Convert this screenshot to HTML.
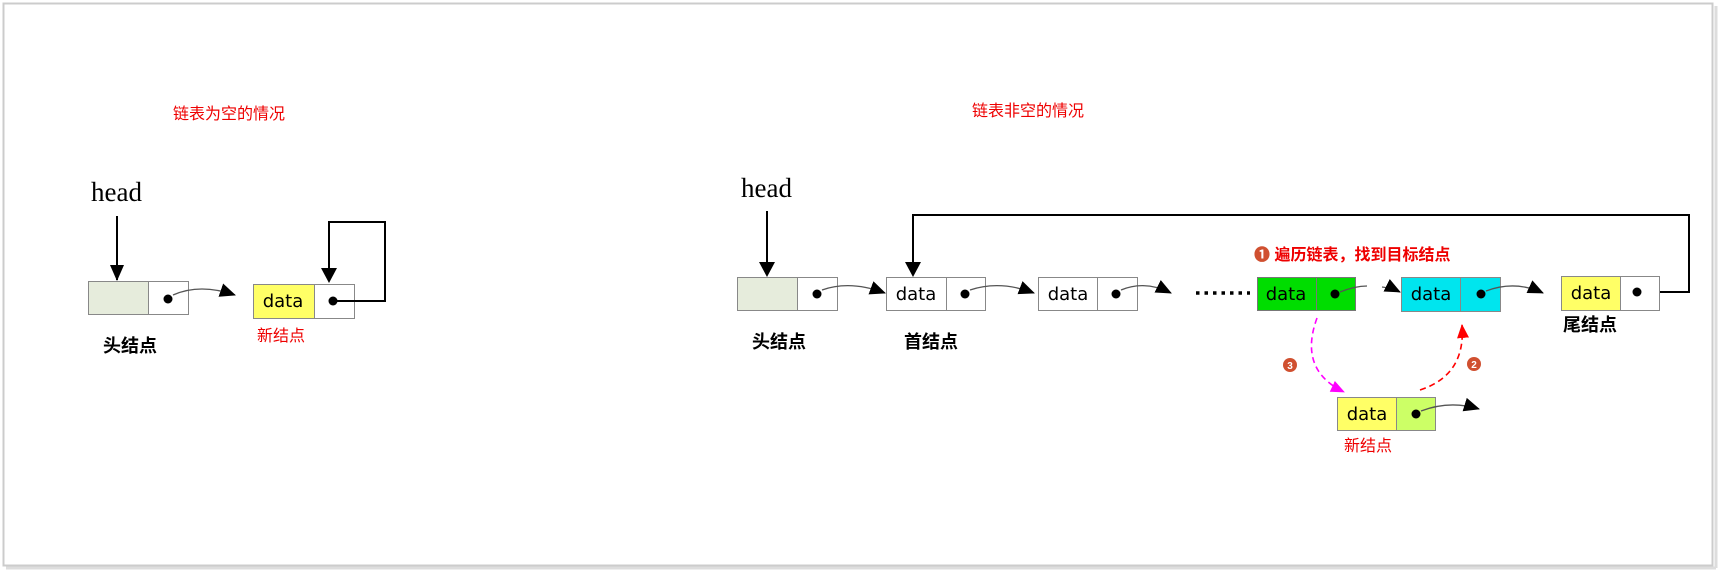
<!DOCTYPE html>
<html><head><meta charset="utf-8"><style>
html,body{margin:0;padding:0;background:#fff;}
svg{display:block;}
.cn{font-family:"Liberation Sans","Noto Sans CJK SC",sans-serif;}
.d{font-family:"DejaVu Sans","Liberation Sans",sans-serif;font-size:18px;}
</style></head><body>
<svg width="1730" height="572" viewBox="0 0 1730 572" xmlns="http://www.w3.org/2000/svg">
<defs>
<marker id="am" markerWidth="14" markerHeight="12" refX="13" refY="6" orient="auto" markerUnits="userSpaceOnUse"><path d="M0,0 L14,6 L0,12z" fill="#f0f"/></marker>
<marker id="ared" markerWidth="14" markerHeight="12" refX="13" refY="6" orient="auto" markerUnits="userSpaceOnUse"><path d="M0,0 L14,6 L0,12z" fill="#f00"/></marker>
<marker id="at" markerWidth="16" markerHeight="14" refX="15" refY="7" orient="auto" markerUnits="userSpaceOnUse"><path d="M0,0 L16,7 L0,14z" fill="#000"/></marker>
</defs>
<rect x="3.5" y="3.5" width="1709" height="562" fill="none" stroke="#ccc" stroke-width="2"/>
<line x1="1716" y1="6" x2="1716" y2="568" stroke="#ddd" stroke-width="3"/>
<line x1="6" y1="568" x2="1716" y2="568" stroke="#ddd" stroke-width="3"/>

<text x="173" y="119" class="cn" font-size="16" fill="#e00">链表为空的情况</text>
<text x="972" y="116" class="cn" font-size="16" fill="#e00">链表非空的情况</text>

<!-- left -->
<text x="91" y="201" font-family="Liberation Serif,serif" font-size="27">head</text>
<line x1="117" y1="216" x2="117" y2="280" stroke="#000" stroke-width="2" marker-end="url(#at)"/>
<rect x="88.5" y="281.5" width="60" height="33" fill="#e6ecdc" stroke="#888"/>
<rect x="148.5" y="281.5" width="40" height="33" fill="#fff" stroke="#888"/>
<circle cx="168" cy="299" r="4.5"/>
<path d="M173,295 Q200,283 235,295" fill="none" stroke="#555" stroke-width="1.3" marker-end="url(#at)"/>
<rect x="253.5" y="284.5" width="61" height="34" fill="#ffff66" stroke="#888"/>
<rect x="314.5" y="284.5" width="40" height="34" fill="#fff" stroke="#888"/>
<text x="283" y="307" class="d" text-anchor="middle">data</text>
<circle cx="333" cy="301" r="4.5"/>
<polyline points="333,301 385,301 385,222 329,222 329,280" fill="none" stroke="#000" stroke-width="2"/>
<path d="M321,268 L337,268 L329,283z"/>
<text x="257" y="341" class="cn" font-size="16" fill="#e00">新结点</text>
<text x="103" y="352" class="cn" font-size="18" font-weight="bold">头结点</text>

<!-- right -->
<text x="741" y="197" font-family="Liberation Serif,serif" font-size="27">head</text>
<line x1="767" y1="211" x2="767" y2="262" stroke="#000" stroke-width="2"/>
<path d="M759,262 L775,262 L767,277z"/>
<rect x="737.5" y="277.5" width="60" height="33" fill="#e6ecdc" stroke="#888"/>
<rect x="797.5" y="277.5" width="40" height="33" fill="#fff" stroke="#888"/>
<circle cx="817" cy="294" r="4.5"/>
<path d="M822,290 Q850,280 885,293" fill="none" stroke="#555" stroke-width="1.3" marker-end="url(#at)"/>

<rect x="886.5" y="277.5" width="60" height="33" fill="#fff" stroke="#888"/>
<rect x="946.5" y="277.5" width="39" height="33" fill="#fff" stroke="#888"/>
<text x="916" y="300" class="d" text-anchor="middle">data</text>
<circle cx="965" cy="294" r="4.5"/>
<path d="M970,290 Q1000,280 1034,293" fill="none" stroke="#555" stroke-width="1.3" marker-end="url(#at)"/>

<rect x="1038.5" y="277.5" width="59" height="33" fill="#fff" stroke="#888"/>
<rect x="1097.5" y="277.5" width="40" height="33" fill="#fff" stroke="#888"/>
<text x="1068" y="300" class="d" text-anchor="middle">data</text>
<circle cx="1116" cy="294" r="4.5"/>
<path d="M1121,290 Q1145,280 1171,293" fill="none" stroke="#555" stroke-width="1.3" marker-end="url(#at)"/>
<line x1="1196" y1="293" x2="1250" y2="293" stroke="#000" stroke-width="3.5" stroke-dasharray="3.5,5"/>

<polyline points="1637,292 1689,292 1689,215 913,215 913,262" fill="none" stroke="#000" stroke-width="2"/>
<path d="M905,262 L921,262 L913,277z"/>

<text x="1254" y="260" class="cn" font-size="16" font-weight="bold" fill="#e00"><tspan fill="#d05030">❶</tspan> 遍历链表，找到目标结点</text>

<rect x="1257.5" y="277.5" width="59" height="33" fill="#00dd00" stroke="#777"/>
<rect x="1316.5" y="277.5" width="39" height="33" fill="#00dd00" stroke="#777"/>
<text x="1286" y="300" class="d" text-anchor="middle">data</text>
<circle cx="1335" cy="294" r="4.5"/>
<path d="M1340,292 Q1355,286 1367,286" fill="none" stroke="#555" stroke-width="1.3"/>
<path d="M1382,287 Q1392,288 1400,292" fill="none" stroke="#555" stroke-width="1.3" marker-end="url(#at)"/>

<rect x="1401.5" y="277.5" width="59" height="34" fill="#00e5ee" stroke="#888"/>
<rect x="1460.5" y="277.5" width="40" height="34" fill="#00e5ee" stroke="#888"/>
<text x="1431" y="300" class="d" text-anchor="middle">data</text>
<circle cx="1481" cy="294" r="4.5"/>
<path d="M1486,291 Q1515,280 1543,293" fill="none" stroke="#555" stroke-width="1.3" marker-end="url(#at)"/>

<rect x="1561.5" y="276.5" width="59" height="34" fill="#ffff66" stroke="#888"/>
<rect x="1620.5" y="276.5" width="39" height="34" fill="#fff" stroke="#888"/>
<text x="1591" y="299" class="d" text-anchor="middle">data</text>
<circle cx="1637" cy="292" r="4.5"/>
<text x="1563" y="331" class="cn" font-size="18" font-weight="bold">尾结点</text>

<text x="752" y="348" class="cn" font-size="18" font-weight="bold">头结点</text>
<text x="904" y="348" class="cn" font-size="18" font-weight="bold">首结点</text>

<path d="M1317,318 Q1298,370 1344,392" fill="none" stroke="#f0f" stroke-width="1.6" stroke-dasharray="6,4" marker-end="url(#am)"/>
<path d="M1420,390 Q1466,375 1462,325" fill="none" stroke="#f00" stroke-width="1.6" stroke-dasharray="6,4" marker-end="url(#ared)"/>
<circle cx="1290" cy="365" r="7" fill="#d05030"/><text x="1290" y="369" font-size="10" fill="#fff" text-anchor="middle" font-family="Liberation Sans,sans-serif" font-weight="bold">3</text>
<circle cx="1474" cy="364" r="7" fill="#d05030"/><text x="1474" y="368" font-size="10" fill="#fff" text-anchor="middle" font-family="Liberation Sans,sans-serif" font-weight="bold">2</text>

<rect x="1337.5" y="397.5" width="59" height="33" fill="#ffff66" stroke="#888"/>
<rect x="1396.5" y="397.5" width="39" height="33" fill="#ccff66" stroke="#888"/>
<text x="1367" y="420" class="d" text-anchor="middle">data</text>
<circle cx="1416" cy="414" r="4.5"/>
<path d="M1421,411 Q1450,400 1479,409" fill="none" stroke="#555" stroke-width="1.3" marker-end="url(#at)"/>
<text x="1344" y="451" class="cn" font-size="16" fill="#e00">新结点</text>
</svg>
</body></html>
